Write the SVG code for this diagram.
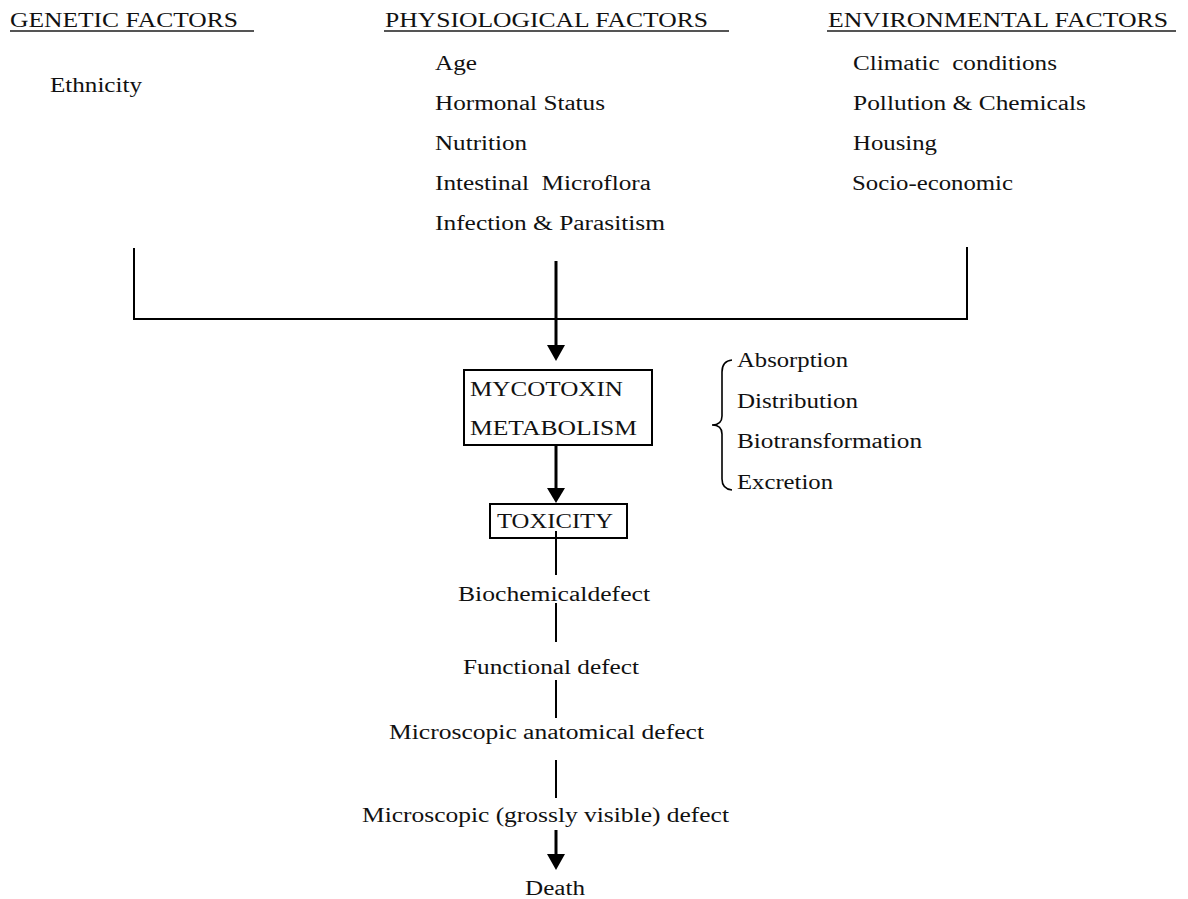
<svg xmlns="http://www.w3.org/2000/svg" width="1188" height="899" viewBox="0 0 1188 899">
<style>
text{font-family:"Liberation Serif","Times New Roman",serif;font-size:20px;fill:#111;white-space:pre}
.ul{stroke:#555;stroke-width:2}
.ln{stroke:#000;stroke-width:2;fill:none}
.thick{stroke:#000;stroke-width:3;fill:none}
.box{fill:#fff;stroke:#000;stroke-width:2}
.head{fill:#000}
</style>
<rect width="1188" height="899" fill="#fff"/>
<g id="genetic">
<text x="10" y="27" textLength="228" lengthAdjust="spacingAndGlyphs">GENETIC FACTORS</text>
<line class="ul" x1="10" y1="31" x2="254" y2="31"/>
<text x="50" y="92" textLength="92" lengthAdjust="spacingAndGlyphs">Ethnicity</text>
</g>
<g id="physiological">
<text x="385" y="27" textLength="323" lengthAdjust="spacingAndGlyphs">PHYSIOLOGICAL FACTORS</text>
<line class="ul" x1="384" y1="31" x2="729" y2="31"/>
<text x="435" y="70" textLength="42" lengthAdjust="spacingAndGlyphs">Age</text>
<text x="435" y="110" textLength="170" lengthAdjust="spacingAndGlyphs">Hormonal Status</text>
<text x="435" y="150" textLength="92" lengthAdjust="spacingAndGlyphs">Nutrition</text>
<text x="435" y="190" textLength="216" lengthAdjust="spacingAndGlyphs">Intestinal  Microflora</text>
<text x="435" y="230" textLength="230" lengthAdjust="spacingAndGlyphs">Infection &amp; Parasitism</text>
</g>
<g id="environmental">
<text x="828" y="27" textLength="340" lengthAdjust="spacingAndGlyphs">ENVIRONMENTAL FACTORS</text>
<line class="ul" x1="827" y1="31" x2="1176" y2="31"/>
<text x="853" y="70" textLength="204" lengthAdjust="spacingAndGlyphs">Climatic  conditions</text>
<text x="853" y="110" textLength="233" lengthAdjust="spacingAndGlyphs">Pollution &amp; Chemicals</text>
<text x="853" y="150" textLength="84" lengthAdjust="spacingAndGlyphs">Housing</text>
<text x="852" y="190" textLength="161" lengthAdjust="spacingAndGlyphs">Socio-economic</text>
</g>
<g id="connectors">
<path class="ln" d="M134 248 V319 H967 V247"/>
<line class="thick" x1="556" y1="261" x2="556" y2="347"/>
<polygon class="head" points="547,345 565,345 556,361"/>
<line class="thick" x1="556" y1="445" x2="556" y2="490"/>
<polygon class="head" points="547,488 565,488 556,503"/>
<line class="ln" x1="556" y1="531" x2="556" y2="575"/>
<line class="ln" x1="556" y1="603" x2="556" y2="642"/>
<line class="ln" x1="556" y1="680" x2="556" y2="718"/>
<line class="ln" x1="556" y1="760" x2="556" y2="798"/>
<line class="thick" x1="556" y1="830" x2="556" y2="856"/>
<polygon class="head" points="547,854 565,854 556,870"/>
</g>
<g id="metabolism">
<rect class="box" x="464" y="370" width="188" height="75"/>
<text x="470" y="396" textLength="153" lengthAdjust="spacingAndGlyphs">MYCOTOXIN</text>
<text x="470" y="435" textLength="167" lengthAdjust="spacingAndGlyphs">METABOLISM</text>
</g>
<g id="adme">
<path d="M732,360 Q722,361 722,372 V416 Q722,425 712,425 Q722,425 722,434 V479 Q722,489 732,490" fill="none" stroke="#000" stroke-width="1.6"/>
<text x="737" y="367" textLength="111" lengthAdjust="spacingAndGlyphs">Absorption</text>
<text x="737" y="408" textLength="121" lengthAdjust="spacingAndGlyphs">Distribution</text>
<text x="737" y="448" textLength="185" lengthAdjust="spacingAndGlyphs">Biotransformation</text>
<text x="737" y="489" textLength="96" lengthAdjust="spacingAndGlyphs">Excretion</text>
</g>
<g id="toxicity">
<rect class="box" x="490" y="504" width="137" height="34" fill-opacity="0"/>
<text x="497" y="528" textLength="116" lengthAdjust="spacingAndGlyphs">TOXICITY</text>
</g>
<g id="biochemical">
<text x="458" y="601" textLength="192" lengthAdjust="spacingAndGlyphs">Biochemicaldefect</text>
</g>
<g id="functional">
<text x="463" y="674" textLength="176" lengthAdjust="spacingAndGlyphs">Functional defect</text>
</g>
<g id="anatomical">
<text x="389" y="739" textLength="315" lengthAdjust="spacingAndGlyphs">Microscopic anatomical defect</text>
</g>
<g id="visible">
<text x="362" y="822" textLength="367" lengthAdjust="spacingAndGlyphs">Microscopic (grossly visible) defect</text>
</g>
<g id="death">
<text x="525" y="895" textLength="60" lengthAdjust="spacingAndGlyphs">Death</text>
</g>
</svg>
